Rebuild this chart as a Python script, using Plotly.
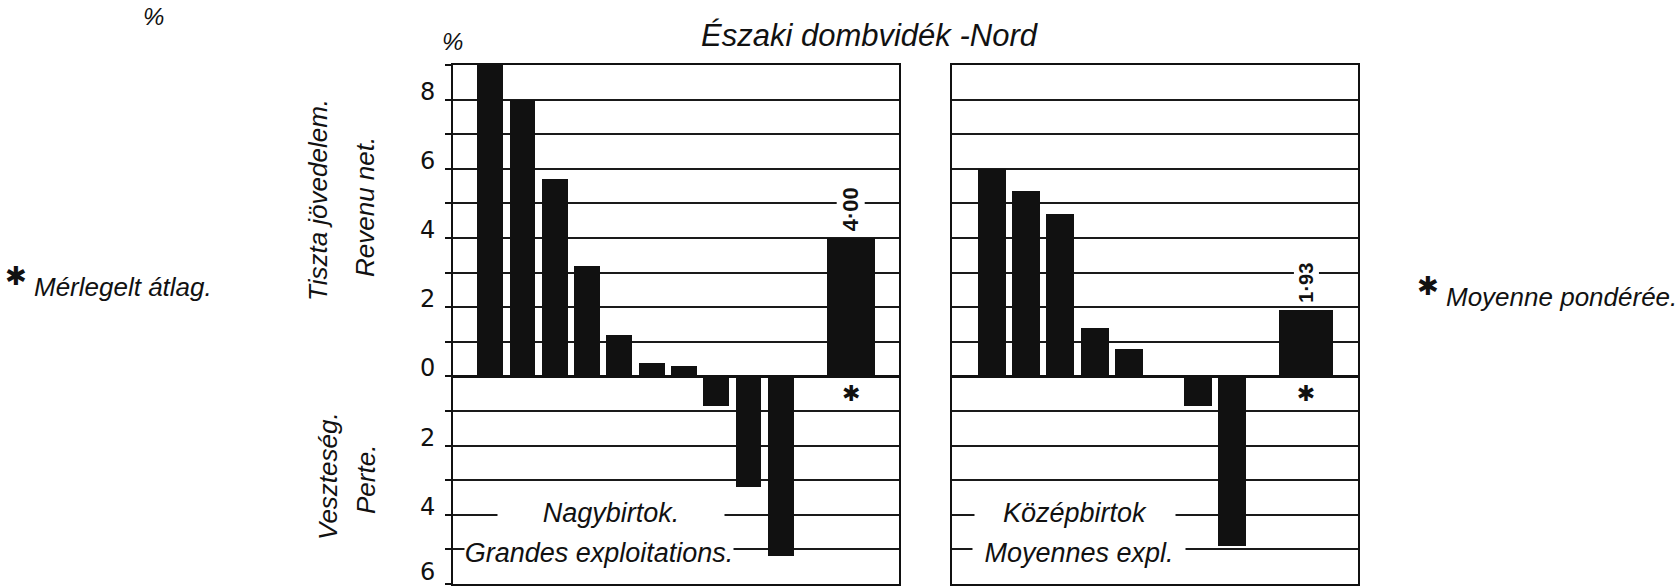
import plotly.graph_objects as go

# ---------------- data ----------------
large_values = [9.1, 8.0, 5.7, 3.2, 1.2, 0.4, 0.3, -0.85, -3.2, -5.2]
large_avg = 4.00
large_avg_label = "4·00"
medium_values = [6.0, 5.35, 4.7, 1.4, 0.8, None, -0.85, -4.9]
medium_avg = 1.93
medium_avg_label = "1·93"
tick_values = [8, 6, 4, 2, 0, -2, -4, -6]
tick_labels = ["8", "6", "4", "2", "0", "2", "4", "6"]

title_text = "Északi dombvidék -Nord"
large_label_hu = "Nagybirtok."
large_label_fr = "Grandes exploitations."
medium_label_hu = "Középbirtok"
medium_label_fr = "Moyennes expl."
income_hu = "Tiszta jövedelem."
income_fr = "Revenu net."
loss_hu = "Veszteség."
loss_fr = "Perte."
avg_hu = "Mérlegelt átlag."
avg_fr = "Moyenne pondérée."
star = "✱"

# ---------------- layout helpers ----------------
W, H = 1676, 588
FONT = "Liberation Sans, Arial, sans-serif"
INK = "#111111"


def px(x):
    return x / W


def py(y):
    return 1 - y / H


def ann(text, x, y, size, angle=0, xanchor="center", yanchor="middle",
        bg=None, width=None, italic=True, weight="normal", family=FONT,
        xref="paper", yref="paper", yshift=0):
    d = dict(
        text=text, x=px(x) if xref == "paper" else x,
        y=py(y) if yref == "paper" else y,
        xref=xref, yref=yref, showarrow=False, textangle=angle,
        xanchor=xanchor, yanchor=yanchor, yshift=yshift,
        font=dict(family=family, size=size, color=INK,
                  style="italic" if italic else "normal", weight=weight),
        borderpad=0,
    )
    if bg:
        d["bgcolor"] = bg
    if width:
        d["width"] = width
    return d


fig = go.Figure()

# left panel bars
lx = list(range(len(large_values)))
l_avg_x = len(large_values) + 1.18
fig.add_trace(go.Bar(x=lx, y=large_values, width=0.8, marker=dict(color=INK, line=dict(width=0)),
                     xaxis="x", yaxis="y", cliponaxis=False, showlegend=False))
fig.add_trace(go.Bar(x=[l_avg_x], y=[large_avg], width=1.5, marker=dict(color=INK, line=dict(width=0)),
                     xaxis="x", yaxis="y", showlegend=False))
fig.add_trace(go.Scatter(x=[l_avg_x], y=[-0.55], mode="text", text=[star],
                         textfont=dict(size=22, color=INK, family="DejaVu Sans"),
                         xaxis="x", yaxis="y", showlegend=False))

# right panel bars
mx = list(range(len(medium_values)))
m_avg_x = len(medium_values) + 1.14
fig.add_trace(go.Bar(x=mx, y=medium_values, width=0.81, marker=dict(color=INK, line=dict(width=0)),
                     xaxis="x2", yaxis="y2", showlegend=False))
fig.add_trace(go.Bar(x=[m_avg_x], y=[medium_avg], width=1.57, marker=dict(color=INK, line=dict(width=0)),
                     xaxis="x2", yaxis="y2", showlegend=False))
fig.add_trace(go.Scatter(x=[m_avg_x], y=[-0.55], mode="text", text=[star],
                         textfont=dict(size=22, color=INK, family="DejaVu Sans"),
                         xaxis="x2", yaxis="y2", showlegend=False))

ydom = [1 - 584 / H, 1 - 65 / H]
axis_common = dict(showline=True, mirror=True, linecolor=INK, linewidth=2)
yaxis_common = dict(range=[-6, 9], dtick=1, tick0=0, showgrid=True, gridcolor="#1a1a1a",
                    gridwidth=1.6, zeroline=True, zerolinecolor=INK, zerolinewidth=3,
                    showticklabels=False, domain=ydom, **axis_common)

fig.update_layout(
    width=W, height=H,
    margin=dict(l=0, r=0, t=0, b=0),
    paper_bgcolor="white", plot_bgcolor="white",
    bargap=0, barmode="overlay",
    xaxis=dict(domain=[px(453), px(899)], range=[-1.15, 12.66], showgrid=False,
               zeroline=False, showticklabels=False, ticks="", anchor="y", **axis_common),
    yaxis=dict(anchor="x", ticks="outside", ticklen=6, tickwidth=1.5, tickcolor=INK, **yaxis_common),
    xaxis2=dict(domain=[px(952), px(1358)], range=[-1.15, 10.65], showgrid=False,
                zeroline=False, showticklabels=False, ticks="", anchor="y2", **axis_common),
    yaxis2=dict(anchor="x2", matches="y", ticks="", **yaxis_common),
)

annotations = []
# tick labels (drawn slightly above their grid lines, as in the original)
for v, t in zip(tick_values, tick_labels):
    if v == min(tick_values):
        a = ann(t, 428, 0, 24, italic=False, family="DejaVu Sans", yref="y",
                yanchor="bottom", yshift=-3)
    else:
        a = ann(t, 428, 0, 24, italic=False, family="DejaVu Sans", yref="y", yshift=8)
    a["y"] = v
    annotations.append(a)
# titles / labels
annotations += [
    ann(title_text, 870, 36, 31),
    ann("%", 452, 41, 24),
    ann("%", 153, 17, 24),
    ann(income_hu, 318, 200, 26, angle=-90),
    ann(income_fr, 365, 207, 26, angle=-90),
    ann(loss_hu, 328, 476, 26, angle=-90),
    ann(loss_fr, 366, 480, 26, angle=-90),
    ann(star, 16, 276, 26, italic=False, family="DejaVu Sans"),
    ann(avg_hu, 33, 287, 26, xanchor="left"),
    ann(star, 1428, 286, 26, italic=False, family="DejaVu Sans"),
    ann(avg_fr, 1445, 297, 26, xanchor="left"),
    ann(large_label_hu, 611, 513, 27, bg="white", width=226),
    ann(large_label_fr, 599, 553, 27, bg="white", width=268),
    ann(medium_label_hu, 1075, 513, 27, bg="white", width=200),
    ann(medium_label_fr, 1079, 553, 27, bg="white", width=212),
]
annotations.append(dict(text=large_avg_label, x=l_avg_x, y=large_avg, xref="x", yref="y",
                        showarrow=False, textangle=-90, xanchor="center", yanchor="bottom",
                        yshift=5, bgcolor="white", borderpad=1,
                        font=dict(family=FONT, size=22, color=INK, weight="bold")))
annotations.append(dict(text=medium_avg_label, x=m_avg_x, y=medium_avg, xref="x2", yref="y2",
                        showarrow=False, textangle=-90, xanchor="center", yanchor="bottom",
                        yshift=5, bgcolor="white", borderpad=1,
                        font=dict(family=FONT, size=20, color=INK, weight="bold")))
fig.update_layout(annotations=annotations)

fig.write_html("out.html", config={"displayModeBar": False},
               post_script="document.body.style.margin='0px';document.body.style.padding='0px';")
